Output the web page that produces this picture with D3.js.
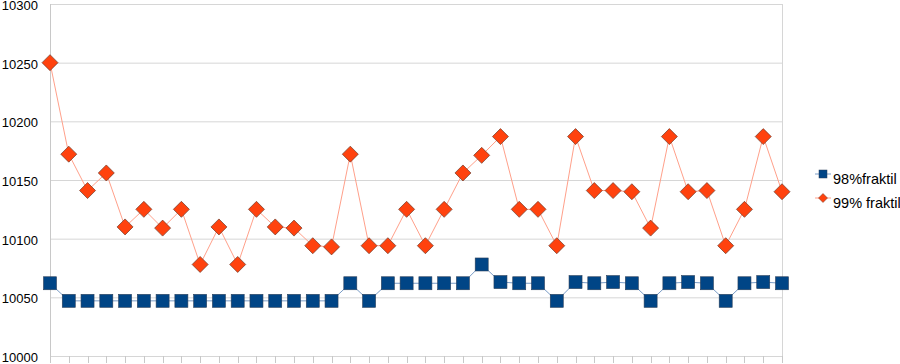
<!DOCTYPE html>
<html><head><meta charset="utf-8">
<script src="https://cdn.jsdelivr.net/npm/d3@7"></script>
<style>body{margin:0;background:#fff;} svg{display:block;font-family:"Liberation Sans",Arial,sans-serif;}</style>
</head><body>
<svg id="c" width="900" height="364"></svg>
<script>
const categories = d3.range(1, 41);
const series98 = [10062,10047,10047,10047,10047,10047,10047,10047,10047,10047,10047,10047,10047,10047,10047,10047,
  10062,10047,10062,10062,10062,10062,10062,10078,10063,10062,10062,10047,10063,10062,10063,10062,10047,10062,10063,10062,10047,10062,10063,10062];
const series99 = [10250,10172,10141,10156,10110,10125,10109,10125,10078,10110,10078,10125,10110,10109,10094,10093,
  10172,10094,10094,10125,10094,10125,10156,10171,10187,10125,10125,10094,10187,10141,10141,10140,10109,10187,10140,10141,10094,10125,10187,10140];
const yTicks = [10000,10050,10100,10150,10200,10250,10300];
const seriesNames = ["98%fraktil","99% fraktil"];

const svg = d3.select("#c");
const L = 50, R = 782, T = 4, B = 356;
const x = d3.scalePoint().domain(categories).range([L, R]);
const y = d3.scaleLinear().domain([10000, 10300]).range([B, T]);

// gridlines
svg.append("g").selectAll("line").data(yTicks).join("line")
  .attr("x1", L).attr("x2", R).attr("y1", d => y(d) + 0.5).attr("y2", d => y(d) + 0.5)
  .attr("stroke", "#d6d6d6").attr("stroke-width", 1);
// right border
svg.append("line").attr("x1", R + 0.5).attr("x2", R + 0.5).attr("y1", T).attr("y2", B)
  .attr("stroke", "#d6d6d6");
// left axis line
svg.append("line").attr("x1", L + 0.5).attr("x2", L + 0.5).attr("y1", T).attr("y2", B + 7)
  .attr("stroke", "#c8c8c8");
// bottom ticks
svg.append("g").selectAll("line").data(categories).join("line")
  .attr("x1", d => Math.round(x(d)) + 0.5).attr("x2", d => Math.round(x(d)) + 0.5)
  .attr("y1", B).attr("y2", B + 7).attr("stroke", "#c8c8c8");
// y labels
svg.append("g").selectAll("text").data(yTicks).join("text")
  .attr("x", 38).attr("y", d => y(d) + 6)
  .attr("text-anchor", "end").attr("font-size", 13).attr("fill", "#000")
  .text(d => d);

// lines
const line = d3.line().x((d, i) => x(categories[i])).y(d => y(d));
svg.append("path").datum(series98).attr("d", line).attr("fill", "none")
  .attr("stroke", "#7a9cc6").attr("stroke-width", 1);
svg.append("path").datum(series99).attr("d", line).attr("fill", "none")
  .attr("stroke", "#ffa08a").attr("stroke-width", 1);

// markers
svg.append("g").selectAll("rect").data(series98).join("rect")
  .attr("x", (d, i) => x(categories[i]) - 6.5).attr("y", d => y(d) - 6.5)
  .attr("width", 13).attr("height", 13)
  .attr("fill", "#004586").attr("stroke", "#2a3f5a").attr("stroke-width", 0.6);
const dia = 8;
svg.append("g").selectAll("path").data(series99).join("path")
  .attr("d", (d, i) => {
    const cx = x(categories[i]), cy = y(d);
    return `M${cx},${cy - dia}L${cx + dia},${cy}L${cx},${cy + dia}L${cx - dia},${cy}Z`;
  })
  .attr("fill", "#ff420e").attr("stroke", "#6b3a2a").attr("stroke-width", 0.7);

// legend
const lg = svg.append("g");
const ly = [174, 198];
const lx = 823;
lg.append("line").attr("x1", lx - 8).attr("x2", lx + 8).attr("y1", ly[0]).attr("y2", ly[0]).attr("stroke", "#7a9cc6");
lg.append("rect").attr("x", lx - 4).attr("y", ly[0] - 4).attr("width", 8).attr("height", 8)
  .attr("fill", "#004586").attr("stroke", "#2a3f5a").attr("stroke-width", 0.5);
lg.append("line").attr("x1", lx - 8).attr("x2", lx + 8).attr("y1", ly[1]).attr("y2", ly[1]).attr("stroke", "#ffa08a");
lg.append("path").attr("d", `M${lx},${ly[1]-4.5}L${lx+4.5},${ly[1]}L${lx},${ly[1]+4.5}L${lx-4.5},${ly[1]}Z`)
  .attr("fill", "#ff420e").attr("stroke", "#6b3a2a").attr("stroke-width", 0.5);
lg.selectAll("text").data(seriesNames).join("text")
  .attr("x", 833).attr("y", (d, i) => ly[i] + 10)
  .attr("font-size", 14.5).attr("fill", "#000").text(d => d);
</script>
</body></html>
